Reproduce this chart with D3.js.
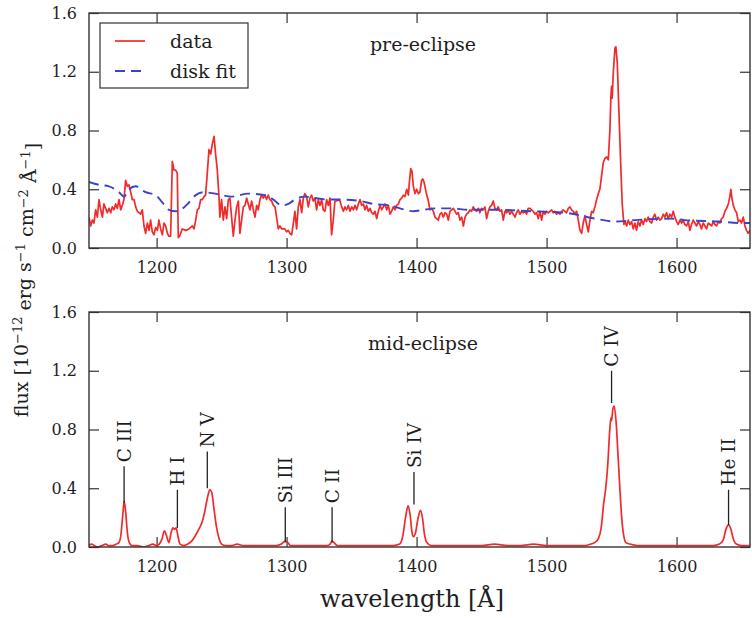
<!DOCTYPE html>
<html>
<head>
<meta charset="utf-8">
<script src="https://cdn.jsdelivr.net/npm/d3@7"></script>
<style>
  html, body { margin: 0; padding: 0; background: #fff; }
  svg { display: block; }
  text { font-family: "DejaVu Serif", serif; fill: #1e1e1e; }
</style>
</head>
<body>
<svg id="chart" width="752" height="618"></svg>
<script>
// ---------------- DATA ----------------
const xTicks = [1200, 1300, 1400, 1500, 1600];
const yTicks = [0.0, 0.4, 0.8, 1.2, 1.6];
const yTickLabels = ["0.0", "0.4", "0.8", "1.2", "1.6"];

// pre-eclipse observed spectrum (wavelength in Å, flux in 1e-12 units)
const preWave = [1148.0,1149.3,1150.6,1151.8,1153.1,1154.4,1155.7,1157.0,1158.3,1159.5,1160.8,1162.1,1163.4,1164.7,1165.9,1167.2,1168.5,1169.8,1171.1,1172.4,1173.6,1174.9,1176.2,1177.5,1178.8,1180.1,1181.3,1182.6,1183.9,1185.2,1186.5,1187.7,1189.0,1190.3,1191.6,1192.9,1194.2,1195.4,1196.7,1198.0,1199.3,1200.6,1201.8,1203.1,1204.4,1205.7,1207.0,1208.3,1209.5,1210.8,1212.1,1213.4,1214.7,1215.9,1216.7,1217.7,1219.8,1222.4,1224.9,1227.5,1228.8,1230.1,1231.3,1232.6,1233.9,1235.2,1236.5,1237.7,1239.0,1240.3,1241.6,1242.9,1244.2,1245.4,1246.7,1248.0,
1248.7,1250.0,1251.3,1252.6,1253.9,1255.2,1256.4,1257.7,1259.0,1260.3,1261.6,1262.9,1264.1,1265.4,1266.7,1268.0,1269.3,1270.5,1271.8,1273.1,1274.4,1275.7,1277.0,1278.2,1279.5,1280.8,1282.1,1283.4,1284.6,1285.9,1287.2,1288.5,1289.8,1291.1,1292.3,1293.6,1294.9,1296.2,1298.7,1300.0,1301.3,1302.6,1303.9,1305.2,1306.4,1307.7,1309.0,1310.3,1311.6,1312.9,1314.1,1315.4,1316.7,1318.0,1319.3,1320.5,1321.8,1323.1,1324.4,1325.7,1327.0,1328.2,1329.5,1330.8,1332.1,1333.4,1334.6,1335.9,1337.2,1338.5,1339.8,1341.1,1342.4,
1343.7,1344.9,1346.2,1347.5,1348.8,1350.1,1351.4,1352.6,1353.9,1355.2,1356.5,1357.8,1359.1,1360.3,1361.6,1362.9,1364.2,1365.5,1366.7,1368.0,1369.3,1370.6,1371.9,1373.2,1374.4,1375.7,1377.0,1378.3,1379.6,1380.8,1382.1,1383.4,1384.7,1386.0,1387.3,1388.5,1389.8,1391.1,1392.4,1393.7,1394.4,1395.5,1396.5,1397.5,1398.8,1400.1,1401.4,1402.6,1403.9,1404.7,1405.7,1407.3,1409.1,1410.3,1411.6,1412.9,1414.2,1415.5,1416.7,1418.0,1419.3,1420.6,1421.9,1423.2,1424.4,1425.7,1427.0,1428.3,1429.6,1430.8,1432.1,1433.4,1434.7,1436.0,
1437.3,1438.5,1439.8,1441.0,1442.3,1443.6,1444.9,1446.2,1447.5,1448.7,1450.0,1451.3,1452.6,1453.9,1455.2,1456.4,1457.7,1459.0,1460.3,1461.6,1462.8,1464.1,1465.4,1466.7,1468.0,1469.3,1470.5,1471.8,1473.1,1474.4,1475.7,1476.9,1478.2,1479.5,1480.8,1482.1,1483.4,1484.6,1485.9,1487.2,1488.5,1489.8,1491.0,1492.3,1493.6,1494.9,1496.2,1497.5,1498.7,1500.0,1501.3,1502.6,1503.9,1505.1,1506.4,1507.7,1509.0,1510.3,1511.6,1512.8,1514.1,1515.4,1516.7,1518.0,1519.3,1520.5,1521.8,1523.1,1524.4,1525.7,1527.0,1528.2,
1529.5,1530.8,1532.1,1533.4,1534.7,1535.9,1537.2,1538.5,1539.8,1541.0,1542.3,1543.6,1544.9,1546.2,1547.5,1548.7,1549.5,1550.0,1550.5,1551.3,1552.6,1553.3,1554.4,1555.7,1557.0,1558.2,1559.5,1560.3,1561.6,1562.8,1564.1,1565.4,1566.7,1568.0,1569.2,1570.5,1571.8,1573.1,1574.4,1575.7,1576.9,1578.2,1579.5,1580.8,1582.1,1583.3,1584.6,1585.9,1587.2,1588.5,1589.8,1591.0,1592.3,1593.6,1594.9,1596.2,1597.4,1598.7,1600.0,1601.3,1602.6,1603.9,1605.1,1606.4,1607.7,1609.0,1610.3,1611.5,1612.8,1614.1,1615.4,1616.7,1618.0,1619.2,1620.5,1621.8,1623.1,1624.4,1625.7,1627.0,1628.2,1629.5,1630.8,1632.1,1633.4,1634.6,1635.9,1637.2,1638.5,1639.8,1641.0,1641.8,1642.6,1643.6,1644.9,1646.2,1647.5,1648.7,1650.0,1651.3,1652.6,1653.8,1655.1,1656.4];
const preFlux = [.21,.15,.19,.17,.26,.21,.33,.26,.21,.30,.27,.24,.27,.24,.28,.26,.30,.27,.33,.26,.29,.33,.46,.42,.43,.38,.33,.33,.28,.25,.24,.23,.26,.15,.10,.17,.12,.19,.11,.09,.14,.12,.19,.13,.09,.17,.15,.10,.08,.08,.59,.53,.53,.51,.07,.08,.13,.12,.13,.15,.13,.19,.26,.27,.33,.33,.35,.36,.51,.67,.64,.71,.76,.64,.53,.35,
.21,.33,.19,.28,.20,.33,.34,.21,.08,.19,.28,.32,.10,.19,.28,.29,.34,.30,.26,.32,.26,.21,.29,.26,.33,.36,.34,.36,.33,.36,.33,.32,.29,.28,.21,.13,.15,.13,.13,.11,.12,.10,.09,.17,.25,.13,.28,.33,.24,.34,.37,.35,.28,.34,.36,.32,.34,.26,.33,.29,.33,.26,.25,.33,.29,.34,.09,.19,.32,.32,.33,.32,.28,
.25,.28,.26,.29,.25,.28,.26,.29,.26,.30,.33,.29,.30,.26,.29,.25,.27,.24,.23,.25,.20,.25,.29,.26,.28,.30,.26,.29,.23,.25,.28,.26,.29,.30,.33,.34,.36,.35,.40,.36,.44,.54,.52,.42,.37,.40,.37,.38,.46,.47,.45,.38,.32,.26,.27,.25,.21,.20,.19,.23,.24,.21,.24,.23,.19,.25,.26,.27,.25,.23,.24,.19,.21,.15,
.21,.23,.24,.26,.25,.28,.26,.25,.27,.24,.27,.26,.28,.20,.25,.28,.29,.32,.27,.26,.28,.25,.26,.19,.25,.24,.26,.23,.25,.23,.21,.24,.26,.23,.25,.24,.25,.23,.27,.27,.26,.25,.23,.24,.20,.25,.19,.25,.23,.25,.24,.25,.26,.24,.25,.23,.24,.23,.25,.26,.25,.24,.27,.28,.26,.25,.23,.25,.19,.12,.10,.17,
.22,.16,.11,.19,.25,.24,.28,.33,.37,.40,.49,.58,.61,.62,.60,.80,1.03,1.10,1.02,1.19,1.36,1.37,1.26,.92,.58,.30,.16,.18,.15,.19,.16,.18,.13,.17,.12,.18,.15,.19,.16,.20,.18,.21,.18,.17,.21,.23,.19,.21,.19,.20,.23,.21,.24,.20,.23,.21,.25,.21,.18,.16,.19,.17,.19,.16,.15,.18,.12,.16,.19,.17,.15,.18,.16,.13,.17,.15,.13,.17,.16,.15,.18,.16,.15,.18,.17,.20,.21,.25,.27,.30,.35,.40,.34,.29,.26,.24,.18,.19,.17,.21,.15,.12,.10,.12];

// disk model fit
const diskWave = [1148,1155.7,1163.4,1171.1,1174.9,1178.8,1183.9,1191.6,1199.3,1204.4,1209.5,1214.7,1218.5,1224.9,1230.1,1236.5,1244.9,1257.7,1270.5,1283.4,1289.8,1296.2,1301.3,1306.4,1314.1,1321.8,1332.1,1341.1,1356.5,1366.7,1379.6,1387.3,1397.5,1405.2,1415.5,1425.7,1441.1,1462.8,1488.5,1514.1,1537.2,1552.6,1568,1596,1606,1632,1650,1657];
const diskFlux = [.45,.43,.42,.38,.35,.40,.42,.38,.36,.31,.26,.25,.26,.31,.36,.38,.37,.35,.37,.36,.33,.29,.30,.33,.35,.34,.33,.33,.32,.30,.29,.27,.25,.26,.27,.27,.26,.26,.25,.24,.20,.18,.19,.20,.19,.18,.17,.17];

// mid-eclipse spectrum
const midWave = [1148,1150,1152,1155,1158,1161,1163,1166,1169,1171,1172.5,1174,1175,1176,1177.5,1179,1181,1185,1190,1194,1197,1200,1202,1204,1206,1207.5,1209.5,1211,1212.5,1214,1215,1216.5,1218,1221,1224,1227,1230,1233,1235,1237,1239,1241,1242.5,1244,1246,1248,1250,1253,1258,1262,1266,1272,1278,1285,1292,1296,1299,1301,1303,1310,1318,1325,1331,1333.5,1335,1336.5,1339,1345,1352,1360,1368,1375,1382,1387,1389.5,1391.5,1393.5,1395,1396.5,1397.5,1399,1401,1403,1404.5,1406,1408,1411,1420,1430,1440,1450,1460,1470,1480,1490,1500,1510,1520,1530,1534,1537,1540,1542,1544,1545.5,1547,1548.5,1549.5,1550,1551,1552,1553.5,1555,1556.5,1558,1559.5,1561,1564,1570,1580,1590,1600,1610,1620,1628,1633,1636,1638,1640,1641.5,1643.5,1646,1650,1656];
const midFlux = [.01,.02,.01,.00,.01,.02,.01,.01,.02,.03,.08,.22,.31,.26,.10,.03,.01,.01,.00,.01,.02,.01,.02,.05,.11,.08,.03,.09,.13,.12,.13,.07,.02,.01,.02,.04,.08,.13,.17,.24,.33,.39,.37,.27,.14,.06,.02,.01,.01,.02,.01,.01,.01,.01,.01,.02,.04,.03,.01,.01,.01,.01,.01,.02,.04,.03,.01,.01,.01,.01,.01,.01,.01,.02,.08,.20,.28,.22,.10,.07,.09,.19,.25,.20,.09,.03,.01,.01,.01,.01,.01,.02,.01,.01,.02,.01,.01,.01,.01,.02,.03,.06,.13,.30,.40,.55,.78,.88,.86,.94,.96,.85,.62,.38,.18,.07,.03,.02,.01,.01,.01,.01,.01,.01,.01,.02,.05,.12,.15,.13,.06,.02,.01,.01];

// line identifications (mid-eclipse)
const lineNames = ["C III", "H I", "N V", "Si III", "C II", "Si IV", "C IV", "He II"];
const lineWave  = [1175, 1216, 1239, 1299, 1335, 1398, 1550, 1640];
const lineLow   = [0.30, 0.13, 0.40, 0.03, 0.03, 0.29, 0.98, 0.15];
const lineHigh  = [0.55, 0.39, 0.65, 0.27, 0.27, 0.51, 1.20, 0.39];

const legendNames = ["data", "disk fit"];
const panelTitles = ["pre-eclipse", "mid-eclipse"];

// ---------------- LAYOUT ----------------
const svg = d3.select("#chart");
const L = 89, R = 750;
const panels = [{top: 13, bottom: 248}, {top: 312, bottom: 547}];
const RED = "#f22a2a", BLUE = "#3a44c8", INK = "#333";
const DASH = "10,6";

const x = d3.scaleLinear().domain([1148, 1656.5]).range([L, R]);
const ys = panels.map(p => d3.scaleLinear().domain([0, 1.6]).range([p.bottom, p.top]));

const toPts = (w, f) => w.map((d, i) => [d, f[i]]);

panels.forEach((p, i) => {
  const y = ys[i];
  const g = svg.append("g");
  svg.append("clipPath").attr("id", "clip" + i)
    .append("rect").attr("x", L).attr("y", p.top).attr("width", R - L).attr("height", p.bottom - p.top);

  // axes with inward ticks
  const axB = g.append("g").attr("transform", `translate(0,${p.bottom})`)
    .call(d3.axisBottom(x).tickValues(xTicks).tickSize(-10).tickPadding(14).tickFormat(d3.format("d")));
  const axT = g.append("g").attr("transform", `translate(0,${p.top})`)
    .call(d3.axisTop(x).tickValues(xTicks).tickSize(-10).tickFormat(""));
  const axL = g.append("g").attr("transform", `translate(${L},0)`)
    .call(d3.axisLeft(y).tickValues(yTicks).tickSize(-10).tickPadding(12).tickFormat((d, k) => yTickLabels[k]));
  const axR = g.append("g").attr("transform", `translate(${R},0)`)
    .call(d3.axisRight(y).tickValues(yTicks).tickSize(-10).tickFormat(""));
  [axB, axT, axL, axR].forEach(a => {
    a.select(".domain").remove();
    a.selectAll("line").attr("stroke", INK).attr("stroke-width", 1.2);
    a.selectAll("text").style("font-family", "DejaVu Serif").style("font-size", "16px").attr("fill", "#1e1e1e");
  });

  const line = d3.line().x(d => x(d[0])).y(d => y(d[1]));
  const plot = g.append("g").attr("clip-path", `url(#clip${i})`);

  if (i === 0) {
    plot.append("path").datum(toPts(preWave, preFlux))
      .attr("d", line).attr("fill", "none").attr("stroke", RED).attr("stroke-width", 1.7).attr("stroke-linejoin", "round");
    plot.append("path").datum(toPts(diskWave, diskFlux))
      .attr("d", line.curve(d3.curveMonotoneX)).attr("fill", "none").attr("stroke", BLUE)
      .attr("stroke-width", 1.9).attr("stroke-dasharray", DASH);
  } else {
    plot.append("path").datum(toPts(midWave, midFlux))
      .attr("d", d3.line().x(d => x(d[0])).y(d => y(d[1])).curve(d3.curveMonotoneX))
      .attr("fill", "none").attr("stroke", RED).attr("stroke-width", 1.7);
    lineNames.forEach((n, k) => {
      g.append("line").attr("x1", x(lineWave[k])).attr("x2", x(lineWave[k]))
        .attr("y1", y(lineLow[k])).attr("y2", y(lineHigh[k]))
        .attr("stroke", "#222").attr("stroke-width", 1.3);
      g.append("text")
        .attr("transform", `translate(${x(lineWave[k])},${y(lineHigh[k]) - 4}) rotate(-90)`)
        .attr("dy", "0.36em").attr("text-anchor", "start")
        .style("font-size", "18.5px").text(n);
    });
  }

  // frame
  g.append("rect").attr("x", L).attr("y", p.top).attr("width", R - L).attr("height", p.bottom - p.top)
    .attr("fill", "none").attr("stroke", INK).attr("stroke-width", 1.4);

  g.append("text").attr("x", 423).attr("y", p.top + 38).attr("text-anchor", "middle")
    .style("font-size", "19px").text(panelTitles[i]);
});

// legend
const lg = svg.append("g");
lg.append("rect").attr("x", 100).attr("y", 23).attr("width", 148).attr("height", 65)
  .attr("fill", "#fff").attr("stroke", INK).attr("stroke-width", 1.2);
[[RED, null], [BLUE, DASH]].forEach(([c, dash], k) => {
  const yy = 41 + k * 30;
  lg.append("line").attr("x1", 115).attr("x2", 145).attr("y1", yy).attr("y2", yy)
    .attr("stroke", c).attr("stroke-width", k ? 1.9 : 1.7).attr("stroke-dasharray", dash);
  lg.append("text").attr("x", 170).attr("y", yy + 6.5).style("font-size", "19px").text(legendNames[k]);
});

// x label
svg.append("text").attr("x", 412).attr("y", 607).attr("text-anchor", "middle")
  .style("font-size", "24px").text("wavelength [Å]");

// y label with superscripts
const yl = svg.append("text").attr("transform", "translate(28,280) rotate(-90)")
  .attr("text-anchor", "middle").style("font-size", "19px");
const parts = [["flux [10", 0], ["−12", 1], [" erg s", 0], ["−1", 1], [" cm", 0], ["−2", 1], [" Å", 0], ["−1", 1], ["]", 0]];
let prevSup = 0;
parts.forEach(([t, sup]) => {
  const ts = yl.append("tspan").text(t);
  if (sup && !prevSup) ts.attr("dy", "-0.45em").style("font-size", "13px");
  else if (!sup && prevSup) ts.attr("dy", "0.45em");
  prevSup = sup;
});
</script>
</body>
</html>
